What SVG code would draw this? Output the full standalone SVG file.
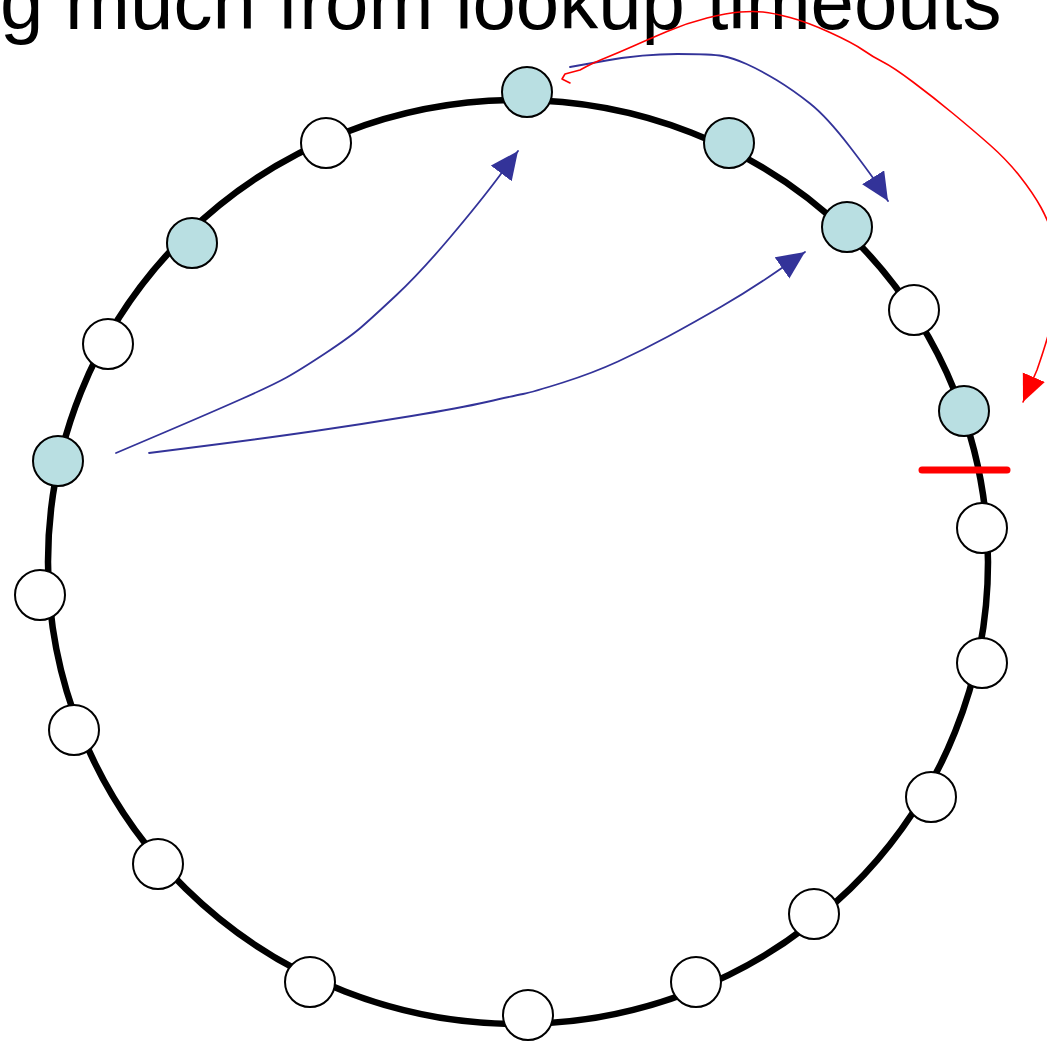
<svg xmlns="http://www.w3.org/2000/svg" width="1047" height="1041" viewBox="0 0 1047 1041">
  <style>
    .title { font-family: "Liberation Sans", Arial, sans-serif; font-size: 78px; fill: #000; }
    .ring { fill: none; stroke: #000; stroke-width: 6.5; }
    .node { stroke: #000; stroke-width: 2; }
    .idle { fill: #fff; }
    .hit { fill: #b9dfe2; }
    .hop { fill: none; stroke: #333399; stroke-width: 1.8; stroke-linejoin: round; stroke-linecap: round; }
    .retry { fill: none; stroke: #ff0000; stroke-width: 1.6; stroke-linejoin: round; stroke-linecap: round; }
  </style>
  <defs>
    <marker id="head-blue" markerUnits="userSpaceOnUse" markerWidth="30" markerHeight="28" refX="28" refY="13" orient="auto">
      <path d="M0,0 L28,13 L0,26 Z" fill="#333399"/>
    </marker>
    <marker id="head-red" markerUnits="userSpaceOnUse" markerWidth="30" markerHeight="26" refX="27" refY="12" orient="auto">
      <path d="M0,0 L27,12 L0,24 Z" fill="#ff0000"/>
    </marker>
  </defs>

  <rect width="1047" height="1041" fill="#fff"/>

  <text class="title" x="0" y="29">g much from lookup timeouts</text>

  <!-- identifier ring -->
  <ellipse class="ring" cx="518" cy="562" rx="470" ry="462"/>

  <!-- failure mark on the ring -->
  <line x1="922" y1="470" x2="1007" y2="470" stroke="#ff0000" stroke-width="7" stroke-linecap="round"/>

  <g id="connectors">
    <path id="hop-left-top" class="hop" marker-end="url(#head-blue)" d="M116,453 L163,433 Q210,413 241.5,399 Q273,385 286.5,377.5 Q300,370 325,353.5 Q350,337 361.5,327 Q373,317 396.5,295 Q420,273 450,237.5 Q480,202 499,176.5 L518,151"/>
    <path id="hop-left-right" class="hop" marker-end="url(#head-blue)" d="M149,453 L208,445.5 Q267,438 315,431 Q363,424 411.5,416 Q460,408 486.5,402 Q513,396 523,394 Q533,392 563,382.5 Q593,373 618,361.5 Q643,350 668,336.5 Q693,323 721.5,306.5 Q750,290 777.5,271 L805,252"/>
    <path id="hop-top-right" class="hop" marker-end="url(#head-blue)" d="M570,67 L606.5,60.5 Q643,54 677.5,54 Q712,54 722.5,56 Q733,58 746.5,64 Q760,70 776.5,80 Q793,90 810,103.5 Q827,117 850,147 Q873,177 880.5,189 L888,201"/>
    <path id="timeout-retry" class="retry" marker-end="url(#head-red)" d="M570,83 L562,79 L565,74 L580,70 L586.5,66.5 Q593,63 606.5,57.5 Q620,52 633.5,46 Q647,40 667,31.5 Q687,23 707,18 Q727,13 740,12 Q753,11 763,12 Q773,13 790,17.5 Q807,22 830,32.5 Q853,43 863,50 Q873,57 883,62 Q893,67 913,82 Q933,97 953,113.5 Q973,130 990,145 Q1007,160 1020,176.5 Q1033,193 1041,207.5 Q1049,222 1053.5,238.5 Q1058,255 1058.5,272.5 Q1059,290 1056,304 Q1053,318 1048.5,334 Q1044,350 1037,370 L1023,402"/>
  </g>

  <g id="n1"><circle class="node hit" cx="527" cy="92" r="25"/></g>
  <g id="n2"><circle class="node hit" cx="729" cy="143" r="25"/></g>
  <g id="n3"><circle class="node hit" cx="847" cy="227" r="25"/></g>
  <g id="n4"><circle class="node idle" cx="914" cy="310" r="25"/></g>
  <g id="n5"><circle class="node hit" cx="964" cy="411" r="25"/></g>
  <g id="n6"><circle class="node idle" cx="982" cy="528" r="25"/></g>
  <g id="n7"><circle class="node idle" cx="982" cy="663" r="25"/></g>
  <g id="n8"><circle class="node idle" cx="931" cy="797" r="25"/></g>
  <g id="n9"><circle class="node idle" cx="814" cy="914" r="25"/></g>
  <g id="n10"><circle class="node idle" cx="696" cy="982" r="25"/></g>
  <g id="n11"><circle class="node idle" cx="528" cy="1015" r="25"/></g>
  <g id="n12"><circle class="node idle" cx="310" cy="982" r="25"/></g>
  <g id="n13"><circle class="node idle" cx="158" cy="864" r="25"/></g>
  <g id="n14"><circle class="node idle" cx="74" cy="730" r="25"/></g>
  <g id="n15"><circle class="node idle" cx="40" cy="595" r="25"/></g>
  <g id="n16"><circle class="node hit" cx="58" cy="461" r="25"/></g>
  <g id="n17"><circle class="node idle" cx="108" cy="344" r="25"/></g>
  <g id="n18"><circle class="node hit" cx="192" cy="243" r="25"/></g>
  <g id="n19"><circle class="node idle" cx="326" cy="143" r="25"/></g>
</svg>
